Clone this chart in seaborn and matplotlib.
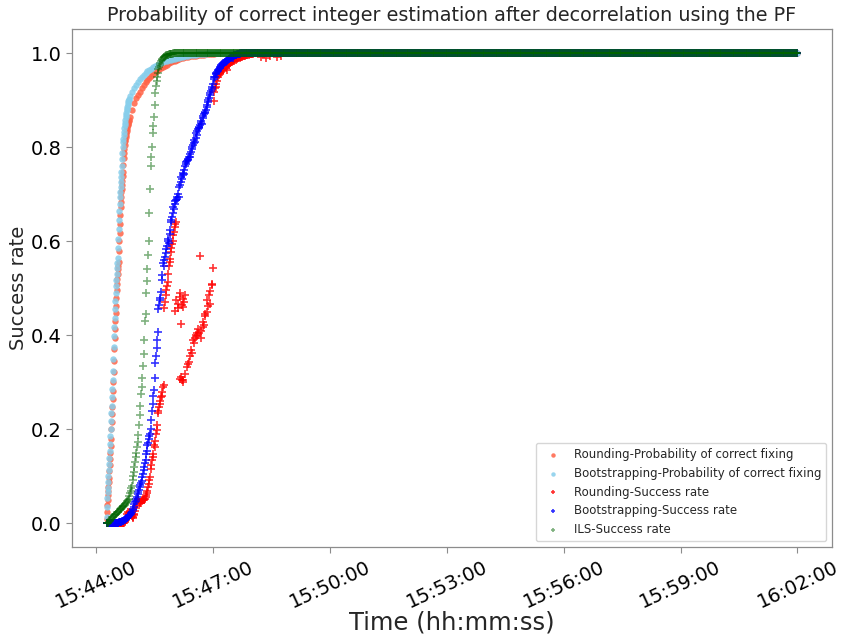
import numpy as np
import pandas as pd
import matplotlib
matplotlib.use("Agg")
import matplotlib.pyplot as plt
import matplotlib.dates as mdates
import seaborn as sns

# ---------------- data (seconds after 15:44:16) ----------------
START = "2023-01-01 15:44:16"
END_SEC = 1064  # 16:02:00

# Rounding - probability of correct fixing: 0.5 s samples, then 3 s samples, then plateau
rp_fast = [0.01, 0.025, 0.04, 0.05, 0.06, 0.07, 0.078, 0.088, 0.097, 0.112,
           0.125, 0.137, 0.15, 0.164, 0.18, 0.2, 0.215, 0.232, 0.248, 0.265,
           0.282, 0.3, 0.322, 0.345, 0.37, 0.395, 0.413, 0.43, 0.447, 0.463,
           0.48, 0.497, 0.51, 0.52, 0.53, 0.54, 0.548, 0.555, 0.58, 0.6,
           0.617, 0.636, 0.655, 0.673, 0.684, 0.695, 0.705, 0.712, 0.72, 0.729,
           0.738, 0.748, 0.762, 0.776, 0.788, 0.797, 0.805, 0.812, 0.816, 0.821,
           0.826, 0.83, 0.835, 0.839, 0.843, 0.846, 0.849, 0.852, 0.855, 0.857]
rp_slow = [0.864, 0.879, 0.894, 0.904, 0.911, 0.918, 0.925, 0.932, 0.938, 0.942,
           0.947, 0.951, 0.955, 0.959, 0.962, 0.965, 0.968, 0.97, 0.973, 0.975,
           0.978, 0.98, 0.982, 0.984, 0.986, 0.988, 0.989, 0.99, 0.991, 0.992,
           0.992, 0.993, 0.993, 0.994, 0.994, 0.995, 0.995, 0.996, 0.996, 0.997,
           0.997, 0.998, 0.998, 0.998, 0.999, 0.999, 0.999, 0.999, 1.0]

# Bootstrapping - probability of correct fixing
bp_fast = [0.013, 0.035, 0.055, 0.066, 0.076, 0.088, 0.1, 0.113, 0.127, 0.14,
           0.155, 0.17, 0.185, 0.2, 0.217, 0.234, 0.25, 0.268, 0.286, 0.305,
           0.325, 0.35, 0.375, 0.398, 0.418, 0.437, 0.455, 0.472, 0.49, 0.505,
           0.518, 0.53, 0.542, 0.553, 0.565, 0.585, 0.605, 0.625, 0.645, 0.664,
           0.68, 0.693, 0.705, 0.716, 0.726, 0.736, 0.747, 0.76, 0.774, 0.788,
           0.8, 0.81, 0.818, 0.826, 0.833, 0.84, 0.846, 0.852, 0.858, 0.863,
           0.868, 0.873, 0.878, 0.882, 0.886, 0.89, 0.893, 0.897, 0.9, 0.903]
bp_slow = [0.909, 0.917, 0.925, 0.932, 0.938, 0.944, 0.949, 0.953, 0.957, 0.961,
           0.964, 0.967, 0.97, 0.972, 0.974, 0.976, 0.978, 0.98, 0.982, 0.983,
           0.985, 0.986, 0.987, 0.988, 0.989, 0.99, 0.991, 0.992, 0.993, 0.994,
           0.994, 0.995, 0.995, 0.996, 0.996, 0.997, 0.997, 0.998, 0.998, 0.998,
           0.999, 0.999, 0.999, 0.999, 1.0]

# Rounding - success rate (1 s samples from 0 s)
rs_a = [0.0] * 28 + [0.003, 0.005, 0.008, 0.012,
        0.02, 0.024, 0.019, 0.022, 0.025, 0.021,
        0.018, 0.015, 0.012, 0.014, 0.017, 0.02, 0.026,
        0.032, 0.038, 0.042,
        0.049, 0.052, 0.046, 0.045, 0.043, 0.044, 0.047, 0.049, 0.05, 0.053,
        0.05, 0.052, 0.056, 0.06, 0.065,
        0.07, 0.077, 0.084, 0.092, 0.099,
        0.116, 0.125, 0.134, 0.141, 0.148,
        0.166, 0.162, 0.175, 0.19, 0.198,
        0.21, 0.24, 0.235, 0.247, 0.255,
        0.26, 0.269, 0.272, 0.279, 0.29, 0.294,
        0.457, 0.47, 0.485, 0.496, 0.505, 0.513, 0.531, 0.547, 0.555, 0.563,
        0.577, 0.585, 0.595, 0.6, 0.613, 0.62, 0.63, 0.636, 0.641]
rs_island_t = [105.5, 107.5, 109.5, 110.5, 112.5, 113.5, 114.5, 115.5, 117.5, 118.5, 119.5, 120.5, 144.5]
rs_island_v = [0.451, 0.474, 0.467, 0.457, 0.482, 0.489, 0.425, 0.464, 0.478, 0.46, 0.471, 0.485, 0.568]
rs_low_t = [113, 114, 116, 117, 118, 121, 124, 126, 127, 129, 130, 131, 133, 134, 136, 137, 139, 140,
            141, 143, 145, 146, 148, 149, 150, 151, 152, 154, 155, 156, 158, 159, 160, 162, 163, 164]
rs_low_v = [0.308, 0.312, 0.305, 0.301, 0.304, 0.318, 0.333, 0.338, 0.343, 0.355, 0.368, 0.362,
            0.389, 0.384, 0.395, 0.4, 0.404, 0.398, 0.413, 0.405, 0.395, 0.41, 0.418, 0.428,
            0.422, 0.446, 0.44, 0.45, 0.474, 0.462, 0.485, 0.467, 0.495, 0.506, 0.51, 0.542]
rs_top = [0.897, 0.918, 0.925, 0.928, 0.935, 0.941, 0.957, 0.949, 0.953, 0.958,
          0.955, 0.962, 0.96, 0.966, 0.963, 0.969, 0.972, 0.974, 0.97, 0.968,
          0.964, 0.973, 0.976, 0.975, 0.978, 0.978, 0.981, 0.98, 0.983, 0.982,
          0.985, 0.984, 0.986, 0.987, 0.985, 0.989, 0.988, 0.99, 0.989, 0.991,
          0.99, 0.992, 0.991, 0.992, 0.993, 0.994, 0.993, 0.995, 0.994, 0.995,
          0.996, 0.995, 0.996, 0.997, 0.996, 0.997, 0.998, 0.997, 0.998, 0.998,
          0.999, 0.998, 0.999, 0.999, 0.999, 1.0]  # from 165 s
rs_top_start = 165
rs_late_t = [238, 246, 252, 262, 268]
rs_late_v = [0.992, 0.99, 0.993, 0.991, 0.994]

# Bootstrapping - success rate (1 s samples from 0 s)
bs = [0.0] * 13 + [
      0.001, 0.001, 0.001, 0.002, 0.002, 0.002, 0.003, 0.003,
      0.003, 0.004, 0.004, 0.005, 0.005, 0.006, 0.007, 0.008,
      0.009, 0.010, 0.011, 0.012, 0.014, 0.015, 0.017,
      0.019, 0.021, 0.023, 0.025, 0.028, 0.031, 0.035,
      0.041, 0.045, 0.048, 0.053, 0.057, 0.062, 0.067, 0.072,
      0.077, 0.082, 0.086, 0.091, 0.098, 0.106, 0.113,
      0.12, 0.128, 0.134, 0.148, 0.155, 0.166, 0.172,
      0.18, 0.186, 0.19, 0.2, 0.22, 0.24, 0.255,
      0.272, 0.283, 0.31, 0.341, 0.355, 0.372, 0.389,
      0.407, 0.455, 0.464, 0.474, 0.48, 0.492, 0.517,
      0.529, 0.554, 0.548, 0.56, 0.567, 0.575, 0.584,
      0.59, 0.6, 0.605, 0.597, 0.615, 0.623, 0.645,
      0.64, 0.652, 0.66, 0.673, 0.669, 0.68, 0.685,
      0.687, 0.69, 0.694, 0.7, 0.694, 0.716, 0.72,
      0.725, 0.737, 0.732, 0.74, 0.745, 0.742, 0.751,
      0.76, 0.769, 0.765, 0.77, 0.775, 0.772, 0.778,
      0.779, 0.785, 0.79, 0.8, 0.796, 0.805, 0.808,
      0.815, 0.81, 0.82, 0.83, 0.826, 0.834, 0.838,
      0.843, 0.84, 0.848, 0.852, 0.856, 0.85, 0.861,
      0.866, 0.87, 0.875, 0.872, 0.879, 0.885, 0.89,
      0.896, 0.9, 0.905, 0.91, 0.914, 0.92, 0.924,
      0.928, 0.935, 0.945, 0.95, 0.948, 0.955, 0.958,
      0.96, 0.964, 0.962, 0.966, 0.968, 0.97, 0.972,
      0.974, 0.976, 0.978, 0.975, 0.979, 0.981, 0.98,
      0.983, 0.985, 0.984, 0.986, 0.987, 0.988, 0.989,
      0.99, 0.991, 0.992, 0.99, 0.993, 0.994, 0.995,
      0.996, 0.995, 0.996, 0.997, 0.997, 0.998, 0.998,
      0.998, 0.999, 0.999, 0.999, 1.0, 1.0]

# ILS - success rate (1 s samples from 0 s)
ils = [0.0, 0.0, 0.0, 0.002, 0.004, 0.006, 0.008, 0.01, 0.012, 0.013,
       0.014, 0.016, 0.017, 0.019, 0.02, 0.021, 0.023, 0.024, 0.025, 0.027,
       0.029, 0.03, 0.031, 0.032, 0.034, 0.035, 0.037, 0.038, 0.04, 0.041,
       0.043, 0.046, 0.048, 0.05, 0.053, 0.058, 0.064, 0.07, 0.075, 0.08,
       0.092, 0.1, 0.11, 0.12, 0.13, 0.141, 0.15, 0.162, 0.173, 0.189,
       0.21, 0.23, 0.25, 0.275, 0.29, 0.31, 0.335, 0.36, 0.39, 0.43,
       0.445, 0.49, 0.515, 0.54, 0.57, 0.6, 0.66, 0.71, 0.76, 0.78,
       0.8, 0.83, 0.845, 0.865, 0.89, 0.915, 0.93, 0.94, 0.95, 0.958,
       0.965, 0.97, 0.975, 0.979, 0.982, 0.985, 0.987, 0.989, 0.991, 0.992,
       0.993, 0.994, 0.995, 0.995, 0.996, 0.996, 0.997, 0.997, 0.997, 0.998,
       0.998, 0.998, 0.998, 0.999, 0.999, 0.999, 0.999, 0.999, 0.999, 1.0]

labels = ["Rounding-Probability of correct fixing",
          "Bootstrapping-Probability of correct fixing",
          "Rounding-Success rate",
          "Bootstrapping-Success rate",
          "ILS-Success rate"]


# ---------------- assemble series ----------------
def plateau_from(t0):
    t = np.arange(int(np.floor(t0)) + 1, END_SEC + 1, 1.0)
    return t, np.full(len(t), 1.0)


def series_fast_slow(fast, slow):
    t_fast = 0.5 * np.arange(len(fast))
    t_slow = 36 + 3.0 * np.arange(len(slow))
    tp, vp = plateau_from(t_slow[-1])
    return np.concatenate([t_fast, t_slow, tp]), np.concatenate([fast, slow, vp])


def series_uniform(vals):
    t = np.arange(len(vals), dtype=float)
    tp, vp = plateau_from(t[-1])
    return np.concatenate([t, tp]), np.concatenate([vals, vp])


rp_t, rp_v = series_fast_slow(rp_fast, rp_slow)
bp_t, bp_v = series_fast_slow(bp_fast, bp_slow)
t_top = rs_top_start + np.arange(len(rs_top), dtype=float)
tp, vp = plateau_from(t_top[-1])
rs_t = np.concatenate([np.arange(len(rs_a), dtype=float), rs_island_t, rs_low_t, t_top, rs_late_t, tp])
rs_v = np.concatenate([rs_a, rs_island_v, rs_low_v, rs_top, rs_late_v, vp])
bs_t, bs_v = series_uniform(bs)
ils_t, ils_v = series_uniform(ils)

start = pd.Timestamp(START)


def to_time(t):
    return start + pd.to_timedelta(np.asarray(t, dtype=float), unit="s")


# ---------------- plot ----------------
sns.set_style("white")
plt.rcParams["font.family"] = ["DejaVu Sans"]
fig, ax = plt.subplots(figsize=(8.44, 6.34), dpi=100)
fig.subplots_adjust(left=0.0853, right=0.9858, top=0.9535, bottom=0.1372)

sns.scatterplot(x=to_time(rp_t), y=rp_v, ax=ax, marker="o", s=21, color="tomato",
                alpha=0.85, linewidth=0, label=labels[0])
sns.scatterplot(x=to_time(bp_t), y=bp_v, ax=ax, marker="o", s=21, color="skyblue",
                alpha=0.85, linewidth=0, label=labels[1])
sns.scatterplot(x=to_time(rs_t), y=rs_v, ax=ax, marker="+", s=26, color="red",
                alpha=0.8, linewidth=1.2, label=labels[2])
sns.scatterplot(x=to_time(bs_t), y=bs_v, ax=ax, marker="+", s=26, color="blue",
                alpha=0.8, linewidth=1.2, label=labels[3])
sns.scatterplot(x=to_time(ils_t), y=ils_v, ax=ax, marker="+", s=26, color="darkgreen",
                alpha=0.5, linewidth=1.2, label=labels[4])

ax.xaxis.set_major_locator(mdates.MinuteLocator(byminute=range(2, 60, 3)))
ax.xaxis.set_major_formatter(mdates.DateFormatter("%H:%M:%S"))
ax.set_yticks([0.0, 0.2, 0.4, 0.6, 0.8, 1.0])

for sp in ax.spines.values():
    sp.set_visible(True)
    sp.set_color("#8c8c8c")
    sp.set_linewidth(0.9)
ax.tick_params(axis="both", which="major", labelsize=14, length=4, width=0.8,
               color="#8c8c8c", bottom=True, left=True, labelcolor="black")
plt.setp(ax.get_xticklabels(), rotation=25, ha="center")
ax.grid(False)

ax.set_xlabel("Time (hh:mm:ss)", fontsize=17.5)
ax.set_ylabel("Success rate", fontsize=14)
ax.xaxis.set_label_coords(0.5, -0.122)
ax.yaxis.set_label_coords(-0.058, 0.5)
ax.set_title("Probability of correct integer estimation after decorrelation using the PF",
             fontsize=13.8)

ax.legend(loc="lower right", fontsize=8.5, markerscale=0.7, frameon=True)

fig.savefig("out.png", dpi=100)
